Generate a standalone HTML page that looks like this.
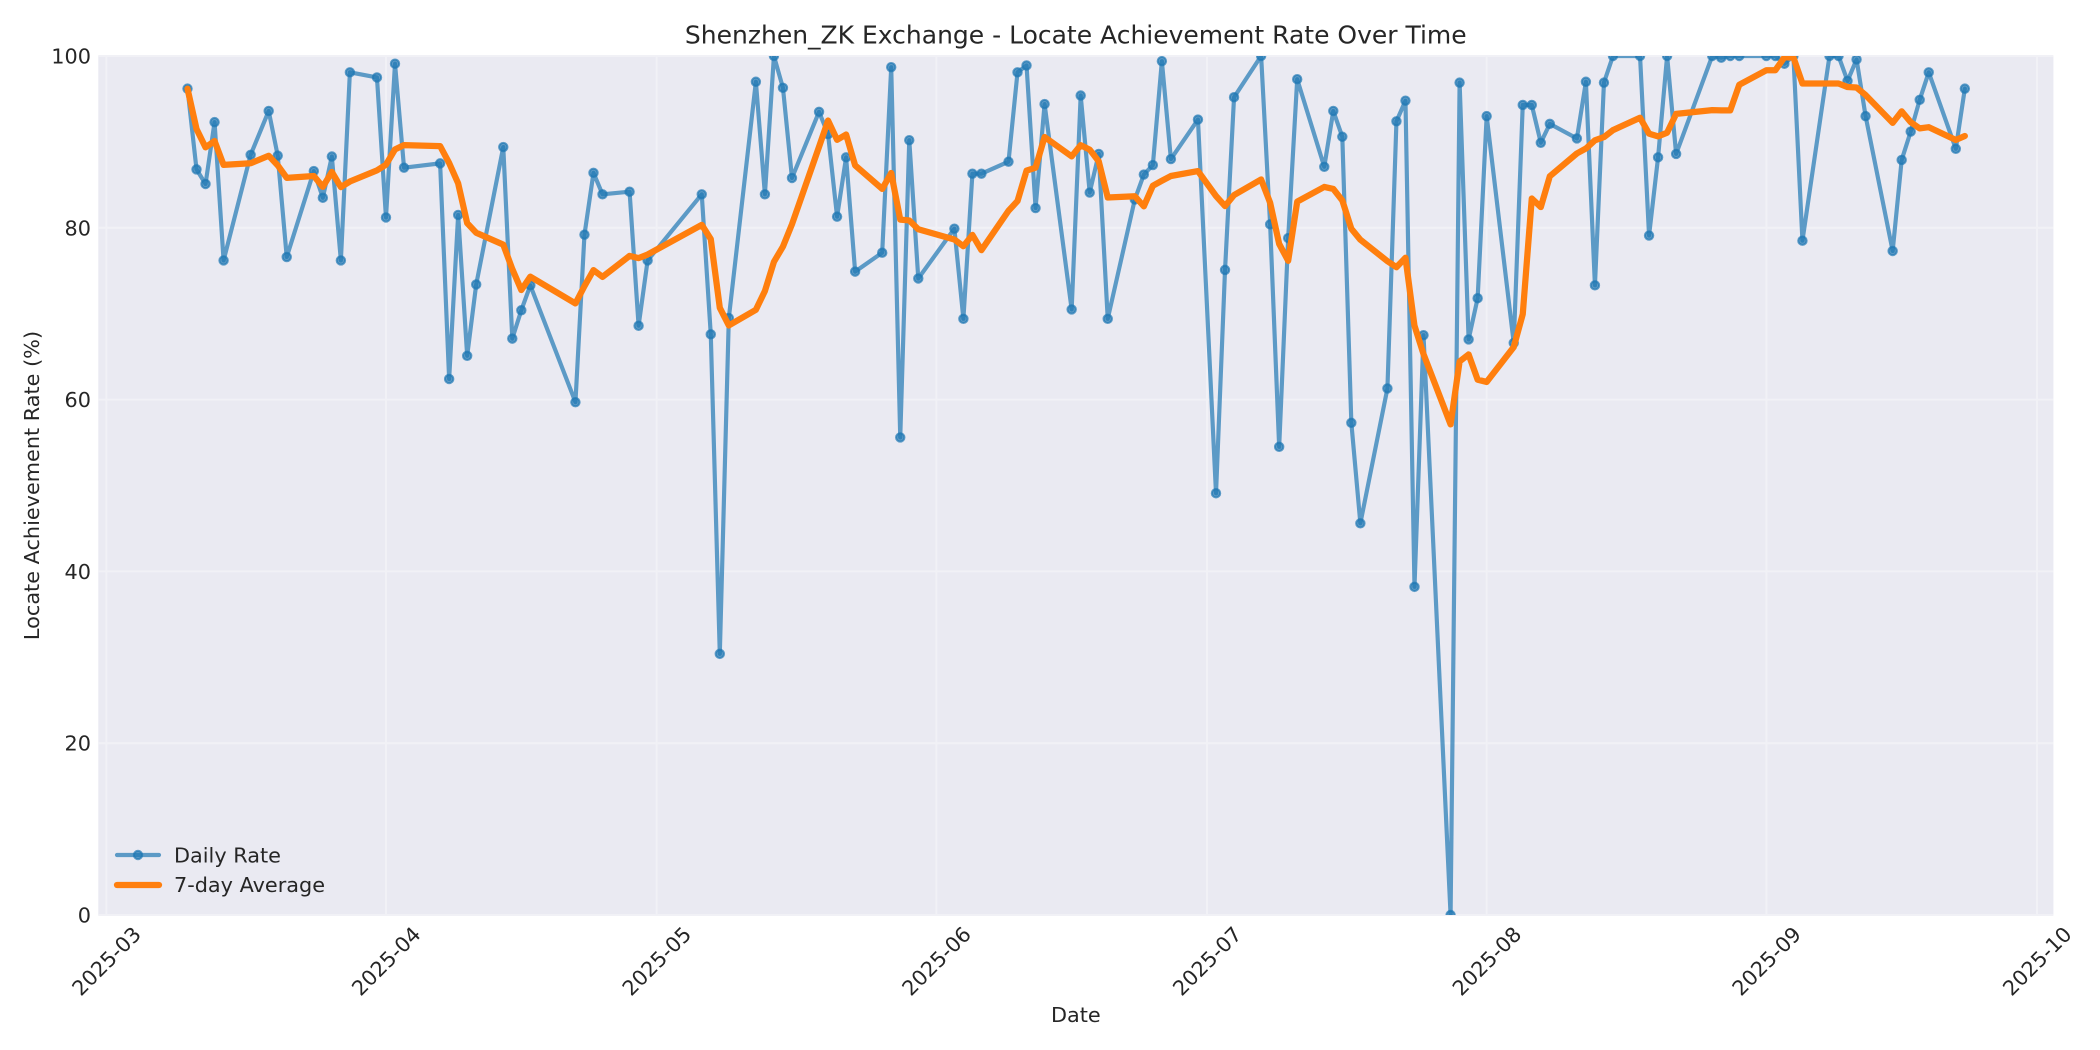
<!DOCTYPE html>
<html>
<head>
<meta charset="utf-8">
<style>
  html,body{margin:0;padding:0;background:#ffffff;}
  svg{display:block;}
  text{font-family:"DejaVu Sans","Liberation Sans",sans-serif;fill:#262626;}
</style>
</head>
<body>
<svg id="chart" xmlns="http://www.w3.org/2000/svg" width="2100" height="1050" viewBox="0 0 2100 1050">
  <rect x="0" y="0" width="2100" height="1050" fill="#ffffff"/>
  <defs>
    <clipPath id="axclip"><rect x="98.3" y="56" width="1955.1" height="859"/></clipPath>
  </defs>
  <!-- axes background -->
  <rect x="98.3" y="56" width="1955.1" height="859" fill="#EAEAF2"/>
  <!-- grid -->
  <g stroke="#F1F1F6" stroke-width="2">
    <line x1="98.3" x2="2053.4" y1="915" y2="915"/>
    <line x1="98.3" x2="2053.4" y1="743.2" y2="743.2"/>
    <line x1="98.3" x2="2053.4" y1="571.4" y2="571.4"/>
    <line x1="98.3" x2="2053.4" y1="399.6" y2="399.6"/>
    <line x1="98.3" x2="2053.4" y1="227.8" y2="227.8"/>
    <line x1="98.3" x2="2053.4" y1="56" y2="56"/>
    <line y1="56" y2="915" x1="106.3" x2="106.3"/>
    <line y1="56" y2="915" x1="386.0" x2="386.0"/>
    <line y1="56" y2="915" x1="656.6" x2="656.6"/>
    <line y1="56" y2="915" x1="936.3" x2="936.3"/>
    <line y1="56" y2="915" x1="1207.0" x2="1207.0"/>
    <line y1="56" y2="915" x1="1486.7" x2="1486.7"/>
    <line y1="56" y2="915" x1="1766.4" x2="1766.4"/>
    <line y1="56" y2="915" x1="2037.0" x2="2037.0"/>
  </g>
  <g id="series" clip-path="url(#axclip)"></g>

  <!-- title -->
  <text x="1075.8" y="43.5" text-anchor="middle" font-size="25">Shenzhen_ZK Exchange - Locate Achievement Rate Over Time</text>

  <!-- y tick labels -->
  <g font-size="20.8" text-anchor="end">
    <text x="91" y="922.5">0</text>
    <text x="91" y="750.7">20</text>
    <text x="91" y="578.9">40</text>
    <text x="91" y="407.1">60</text>
    <text x="91" y="235.3">80</text>
    <text x="91" y="63.5">100</text>
  </g>

  <!-- x tick labels (rotated 45) -->
  <g font-size="20.8" text-anchor="middle">
    <text x="106.3" y="968.5" transform="rotate(-45 106.3 961)">2025-03</text>
    <text x="386.0" y="968.5" transform="rotate(-45 386.0 961)">2025-04</text>
    <text x="656.6" y="968.5" transform="rotate(-45 656.6 961)">2025-05</text>
    <text x="936.3" y="968.5" transform="rotate(-45 936.3 961)">2025-06</text>
    <text x="1207.0" y="968.5" transform="rotate(-45 1207.0 961)">2025-07</text>
    <text x="1486.7" y="968.5" transform="rotate(-45 1486.7 961)">2025-08</text>
    <text x="1766.4" y="968.5" transform="rotate(-45 1766.4 961)">2025-09</text>
    <text x="2037.0" y="968.5" transform="rotate(-45 2037.0 961)">2025-10</text>
  </g>

  <!-- axis labels -->
  <text x="1075.8" y="1022" text-anchor="middle" font-size="20.8">Date</text>
  <text transform="translate(39 485.5) rotate(-90)" text-anchor="middle" font-size="20.8">Locate Achievement Rate (%)</text>

  <!-- legend -->
  <g>
    <line x1="117" x2="159" y1="855" y2="855" stroke="#1f77b4" stroke-opacity="0.7" stroke-width="4.17" stroke-linecap="round"/>
    <circle cx="138" cy="855" r="4.17" fill="#1f77b4" fill-opacity="0.7" stroke="#1f77b4" stroke-opacity="0.7" stroke-width="2.08"/>
    <text x="174" y="862.3" font-size="20.8">Daily Rate</text>
    <line x1="117" x2="159" y1="885" y2="885" stroke="#ff7f0e" stroke-width="6.25" stroke-linecap="round"/>
    <text x="174" y="892" font-size="20.8">7-day Average</text>
  </g>
</svg>
<script>
(function(){
  var data=[[9,96.2],[10,86.8],[11,85.1],[12,92.3],[13,76.2],[16,88.5],[18,93.6],[19,88.4],[20,76.6],[23,86.6],[24,83.5],[25,88.3],[26,76.2],[27,98.1],[30,97.5],[31,81.2],[32,99.1],[33,87.0],[37,87.5],[38,62.4],[39,81.5],[40,65.1],[41,73.4],[44,89.4],[45,67.1],[46,70.4],[47,73.3],[52,59.7],[53,79.2],[54,86.4],[55,83.9],[58,84.2],[59,68.6],[60,76.2],[66,83.9],[67,67.6],[68,30.4],[69,69.5],[72,97.0],[73,83.9],[74,100],[75,96.3],[76,85.8],[79,93.5],[80,90.9],[81,81.3],[82,88.2],[83,74.9],[86,77.1],[87,98.7],[88,55.6],[89,90.2],[90,74.1],[94,79.9],[95,69.4],[96,86.3],[97,86.3],[100,87.7],[101,98.1],[102,98.9],[103,82.3],[104,94.4],[107,70.5],[108,95.4],[109,84.1],[110,88.6],[111,69.4],[114,83.3],[115,86.2],[116,87.3],[117,99.4],[118,88.0],[121,92.6],[123,49.1],[124,75.1],[125,95.2],[128,100],[129,80.4],[130,54.5],[131,78.8],[132,97.3],[135,87.1],[136,93.6],[137,90.6],[138,57.3],[139,45.6],[142,61.3],[143,92.4],[144,94.8],[145,38.2],[146,67.5],[149,0],[150,96.9],[151,67.0],[152,71.8],[153,93.0],[156,66.6],[157,94.3],[158,94.3],[159,89.9],[160,92.1],[163,90.4],[164,97.0],[165,73.3],[166,96.9],[167,100],[170,100],[171,79.1],[172,88.2],[173,100],[174,88.6],[178,100],[179,99.8],[180,100],[181,100],[184,100],[185,100],[186,99.1],[187,100],[188,78.5],[191,100],[192,100],[193,97.1],[194,99.6],[195,93.0],[198,77.3],[199,87.9],[200,91.2],[201,94.9],[202,98.1],[205,89.2],[206,96.2]];
  function X(d){return 106.3+9.022*d;}
  function Y(v){return 915-8.59*v;}
  var ns="http://www.w3.org/2000/svg";
  var g=document.getElementById("series");
  var pts=[],avg=[];
  for(var i=0;i<data.length;i++){
    pts.push(X(data[i][0]).toFixed(2)+","+Y(data[i][1]).toFixed(2));
    var s=0,n=0;
    for(var j=Math.max(0,i-6);j<=i;j++){s+=data[j][1];n++;}
    avg.push(X(data[i][0]).toFixed(2)+","+Y(s/n).toFixed(2));
  }
  var pl=document.createElementNS(ns,"polyline");
  pl.setAttribute("points",pts.join(" "));
  pl.setAttribute("fill","none");
  pl.setAttribute("stroke","#1f77b4");
  pl.setAttribute("stroke-opacity","0.7");
  pl.setAttribute("stroke-width","4.17");
  pl.setAttribute("stroke-linejoin","round");
  pl.setAttribute("stroke-linecap","round");
  g.appendChild(pl);
  for(var k=0;k<data.length;k++){
    var c=document.createElementNS(ns,"circle");
    c.setAttribute("cx",X(data[k][0]).toFixed(2));
    c.setAttribute("cy",Y(data[k][1]).toFixed(2));
    c.setAttribute("r","4.17");
    c.setAttribute("fill","#1f77b4");
    c.setAttribute("fill-opacity","0.7");
    c.setAttribute("stroke","#1f77b4");
    c.setAttribute("stroke-opacity","0.7");
    c.setAttribute("stroke-width","2.08");
    g.appendChild(c);
  }
  var pa=document.createElementNS(ns,"polyline");
  pa.setAttribute("points",avg.join(" "));
  pa.setAttribute("fill","none");
  pa.setAttribute("stroke","#ff7f0e");
  pa.setAttribute("stroke-width","6.25");
  pa.setAttribute("stroke-linejoin","round");
  pa.setAttribute("stroke-linecap","round");
  g.appendChild(pa);
})();
</script>
</body>
</html>
